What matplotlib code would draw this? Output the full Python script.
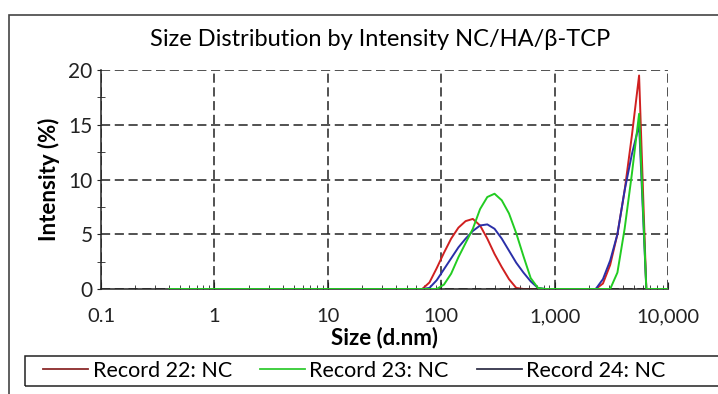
import matplotlib
matplotlib.use('Agg')
import matplotlib.pyplot as plt
from matplotlib.patches import Rectangle
from matplotlib.ticker import FixedLocator, NullFormatter

plt.rcParams['font.family'] = ['Lato', 'DejaVu Sans']

# size bins (d.nm) and intensity (%)
sizes = [0.4, 58.77, 68.06, 78.82, 91.28, 105.7, 122.4, 141.8, 164.2, 190.1,
         220.2, 255.0, 295.3, 342.0, 396.1, 458.7, 531.2, 615.1, 712.4, 825.0,
         955.4, 1990, 2305, 2669, 3091, 3580, 4145, 4801, 5560, 6439,
         7456, 10000]
rec22 = [0, 0, 0, 0.6, 1.9, 3.3, 4.6, 5.6, 6.2, 6.4,
         5.8, 4.6, 3.2, 2.0, 0.9, 0.1, 0, 0, 0, 0,
         0, 0, 0, 0.5, 2.2, 5.0, 9.0, 14.0, 19.5, 0,
         0, 0]
rec23 = [0, 0, 0, 0, 0, 0.4, 1.4, 2.9, 4.2, 5.5,
         7.3, 8.4, 8.7, 8.1, 6.9, 5.1, 3.0, 1.0, 0.1, 0,
         0, 0, 0, 0, 0, 1.5, 5.5, 10.5, 16.0, 0,
         0, 0]
rec24 = [0, 0, 0, 0.1, 0.8, 1.8, 2.8, 3.8, 4.6, 5.3,
         5.8, 5.9, 5.5, 4.6, 3.5, 2.4, 1.5, 0.7, 0.1, 0,
         0, 0, 0, 0.9, 2.6, 5.0, 9.0, 12.3, 15.0, 0,
         0, 0]

labels = ['Record 22: NC', 'Record 23: NC', 'Record 24: NC']
line_cols = ['#d02020', '#22cc22', '#2a2fa8']
legend_cols = ['#8b2a2a', '#33cc33', '#33334a']
xticks = [0.1, 1, 10, 100, 1000, 10000]
xticklabels = ['0.1', '1', '10', '100', '1,000', '10,000']
yticks = [0, 5, 10, 15, 20]

W, H = 718, 394
fig = plt.figure(figsize=(W / 100, H / 100), dpi=100)
ax = fig.add_axes([101 / W, 1 - 289 / H, (668 - 101) / W, (289 - 70) / H])

# outer frame of the report and the legend box
fig.patches.append(Rectangle((9 / W, -0.1), 1.2, 1 - 15 / H + 0.1, transform=fig.transFigure,
                             fill=False, edgecolor='#444444', linewidth=1.2))
fig.patches.append(Rectangle((25 / W, 1 - 386 / H), 1.2, 30 / H, transform=fig.transFigure,
                             fill=False, edgecolor='#222222', linewidth=1.1))

l22, = ax.plot(sizes, rec22, color=line_cols[0], lw=1.4, label=labels[0])
l24, = ax.plot(sizes, rec24, color=line_cols[2], lw=1.4, label=labels[2], zorder=2.5)
l23, = ax.plot(sizes, rec23, color=line_cols[1], lw=1.4, label=labels[1], zorder=3)

ax.set_xscale('log')
ax.set_xlim(0.1, 10000)
ax.set_ylim(0, 20)
ax.xaxis.set_major_locator(FixedLocator(xticks))
ax.set_xticklabels(xticklabels)
ax.xaxis.set_minor_formatter(NullFormatter())
ax.yaxis.set_major_locator(FixedLocator(yticks))
ax.yaxis.set_minor_locator(FixedLocator([2.5, 7.5, 12.5, 17.5]))

ax.grid(True, which='major', color='#222222', linestyle=(0, (6, 3)), linewidth=1.1)
for s in ['top', 'right']:
    ax.spines[s].set_visible(False)
for s in ['left', 'bottom']:
    ax.spines[s].set_color('#222222')
    ax.spines[s].set_linewidth(1.1)

ax.tick_params(axis='x', which='major', direction='in', length=5, pad=14, labelsize=14.5,
               colors='#222222')
ax.tick_params(axis='x', which='minor', direction='in', length=3, colors='#222222')
ax.tick_params(axis='y', which='major', direction='out', length=3, pad=3, labelsize=15,
               colors='#222222')
ax.tick_params(axis='y', which='minor', direction='inout', length=6, colors='#222222')

ax.set_xlabel('Size (d.nm)', fontsize=16, fontweight='bold', labelpad=1)
ax.set_ylabel('Intensity (%)', fontsize=16, fontweight='bold', labelpad=6)
fig.text(380 / W, 1 - 40 / H, 'Size Distribution by Intensity NC/HA/\u03b2-TCP',
         ha='center', va='center', fontsize=17)

leg = fig.legend(handles=[l22, l23, l24], labels=labels, loc='center left', ncol=3,
                 bbox_to_anchor=(43 / W, 1 - 371 / H), fontsize=15.5, frameon=False,
                 handlelength=2.1, handletextpad=0.2, columnspacing=1.3,
                 borderaxespad=0, borderpad=0)
for h, c in zip(leg.get_lines(), legend_cols):
    h.set_color(c)
    h.set_linewidth(1.3)

fig.savefig('out.png', dpi=100)
